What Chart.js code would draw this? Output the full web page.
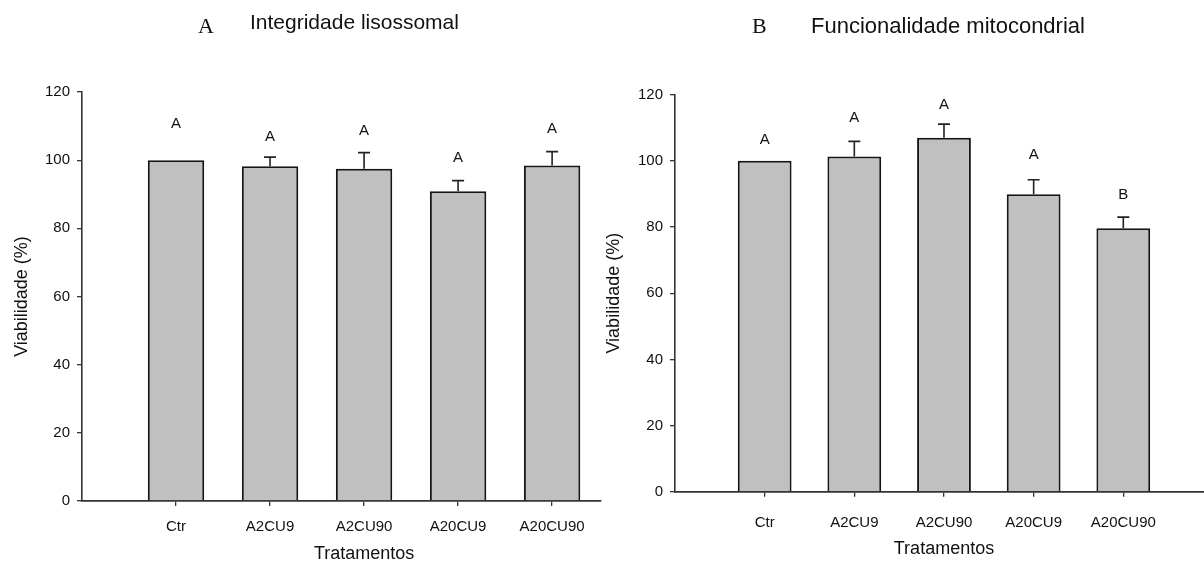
<!DOCTYPE html>
<html><head><meta charset="utf-8">
<script src="https://cdn.jsdelivr.net/npm/chart.js@4.4.1/dist/chart.umd.min.js"></script>
<style>
html,body{margin:0;padding:0;background:#fff;overflow:hidden}
#wrap{position:relative;width:1204px;height:569px;background:#fff}
canvas{position:absolute;top:0}
#ca{left:0}
#cb{left:602px}
</style></head><body>
<div id="wrap"><canvas id="ca" width="602" height="569"></canvas><canvas id="cb" width="602" height="569"></canvas></div>
<script>
const categories = ['Ctr','A2CU9','A2CU90','A20CU9','A20CU90'];
const yTicks = [0,20,40,60,80,100,120];
const xTitle = 'Tratamentos';
const yTitle = 'Viabilidade (%)';

const meansA = [100, 98.2, 97.5, 90.9, 98.4];
const errA = [0, 2.7, 4.7, 3.1, 4.1];
const lettersA = ['A','A','A','A','A'];
const letterPosA = [111, 107.2, 108.9, 101, 109.4];
const tagA = 'A';
const titleA = 'Integridade lisossomal';

const meansB = [100, 101.3, 107.0, 89.9, 79.6];
const errB = [0, 4.6, 4.1, 4.4, 3.4];
const lettersB = ['A','A','A','A','B'];
const letterPosB = [106.8, 113.4, 117.2, 102.1, 90.1];
const tagB = 'B';
const titleB = 'Funcionalidade mitocondrial';

const SANS = '"Liberation Sans", Arial, Helvetica, sans-serif';
const SERIF = '"Liberation Serif", "Times New Roman", serif';
const AXIS = '#333';

function makeChart(canvas, means, errs, letters, letterPos, tag, title, L) {
  const overlay = {
    id: 'overlay',
    afterDatasetsDraw(chart) {
      const ctx = chart.ctx, x = chart.scales.x, y = chart.scales.y;
      ctx.save();
      ctx.strokeStyle = '#222';
      ctx.lineWidth = 1.6;
      means.forEach((m, i) => {
        const e = errs[i];
        if (!e) return;
        const px = x.getPixelForValue(i);
        const y0 = y.getPixelForValue(m), y1 = y.getPixelForValue(m + e);
        ctx.beginPath();
        ctx.moveTo(px, y0); ctx.lineTo(px, y1);
        ctx.moveTo(px - 6, y1); ctx.lineTo(px + 6, y1);
        ctx.stroke();
      });
      ctx.fillStyle = '#111';
      ctx.textAlign = 'center';
      ctx.textBaseline = 'alphabetic';
      ctx.font = '15px ' + SANS;
      letters.forEach((l, i) => {
        ctx.fillText(l, x.getPixelForValue(i), y.getPixelForValue(letterPos[i]) + 5.3);
      });
      ctx.font = '18px ' + SANS;
      ctx.textBaseline = 'middle';
      ctx.fillText(xTitle, x.getPixelForValue(2), L.xTitleY);
      ctx.translate(L.yTitleX, (y.top + y.bottom) / 2);
      ctx.rotate(-Math.PI / 2);
      ctx.fillText(yTitle, 0, 0);
      ctx.restore();
      ctx.save();
      ctx.fillStyle = '#111';
      ctx.textBaseline = 'alphabetic';
      ctx.textAlign = 'left';
      ctx.font = '22px ' + SERIF;
      ctx.fillText(tag, L.tagX, L.tagY);
      ctx.font = L.titleSize + 'px ' + SANS;
      ctx.fillText(title, L.titleX, L.titleY);
      ctx.restore();
    }
  };
  return new Chart(canvas, {
    type: 'bar',
    data: {
      datasets: [{
        data: means.map((v, i) => ({x: i, y: v})),
        backgroundColor: '#c0c0c0',
        borderColor: '#151515',
        borderWidth: 2,
        barPercentage: 0.6,
        categoryPercentage: 1.0
      }]
    },
    options: {
      responsive: false,
      animation: false,
      events: [],
      layout: {padding: {left: 0, right: L.padRight, top: L.padTop, bottom: 0}},
      plugins: {legend: {display: false}, tooltip: {enabled: false}, title: {display: false}},
      scales: {
        x: {
          type: 'linear',
          min: -1, max: L.xMax,
          offset: false,
          afterBuildTicks: s => { s.ticks = categories.map((c, i) => ({value: i})); },
          afterFit: s => { s.height = L.xAxisHeight; },
          ticks: {
            callback: v => categories[v] ?? '',
            color: '#111', font: {family: SANS, size: 15}, padding: L.xTickPad,
            maxRotation: 0, autoSkip: false
          },
          grid: {display: true, drawOnChartArea: false, drawTicks: true, tickLength: 5, color: AXIS, lineWidth: 1.3, offset: false},
          border: {display: true, color: AXIS, width: 1.8}
        },
        y: {
          type: 'linear',
          min: 0, max: 120,
          afterBuildTicks: s => { s.ticks = yTicks.map(v => ({value: v})); },
          afterFit: s => { s.width = L.yAxisWidth; },
          ticks: {color: '#111', font: {family: SANS, size: 15}, padding: 7},
          grid: {display: true, drawOnChartArea: false, drawTicks: true, tickLength: 5, color: AXIS, lineWidth: 1.3},
          border: {display: true, color: AXIS, width: 1.6}
        }
      }
    },
    plugins: [overlay]
  });
}

makeChart(document.getElementById('ca'), meansA, errA, lettersA, letterPosA, tagA, titleA, {
  padRight: 1, padTop: 92, xAxisHeight: 68, yAxisWidth: 82, xMax: 4.52, xTickPad: 12,
  xTitleY: 554, yTitleX: 22, tagX: 198, tagY: 32.5, titleSize: 21, titleX: 250, titleY: 28.5
});
makeChart(document.getElementById('cb'), meansB, errB, lettersB, letterPosB, tagB, titleB, {
  padRight: 0, padTop: 94.7, xAxisHeight: 77.3, yAxisWidth: 73, xMax: 4.9, xTickPad: 17,
  xTitleY: 549, yTitleX: 12, tagX: 150, tagY: 33, titleSize: 22, titleX: 209, titleY: 33
});
</script>
</body></html>
